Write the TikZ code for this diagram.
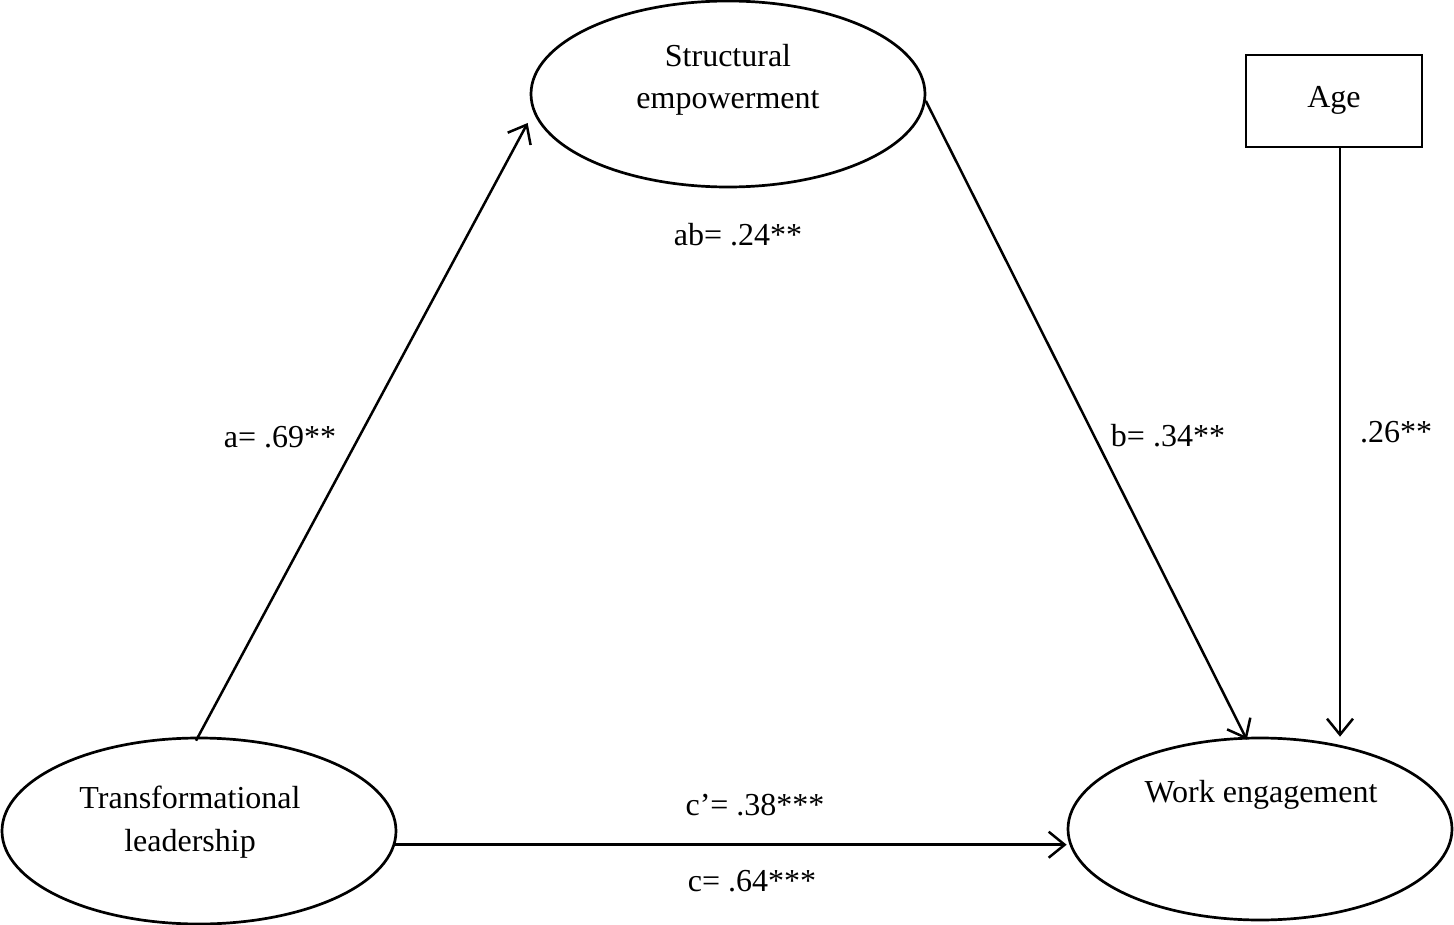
\documentclass[tikz,border=0pt]{standalone}
\usepackage{fontspec}
\setmainfont{Liberation Serif}
\usetikzlibrary{shapes.geometric,arrows.meta,calc}
\begin{document}
\begin{tikzpicture}[x=1pt,y=-1pt,
  oval/.style={draw,ellipse,line width=2.7pt,inner sep=0pt},
  boxnode/.style={draw,rectangle,line width=2.7pt,inner sep=0pt,minimum width=176pt,minimum height=92pt},
  txt/.style={anchor=base,inner sep=0pt,font=\fontsize{32}{38}\selectfont},
  arr/.style={line width=2.5pt,-{Straight Barb[length=16pt,width=26pt,line width=2.5pt]}}]
\useasboundingbox (0,0) rectangle (1454,925);
% shapes
\node[oval,minimum width=394pt,minimum height=186pt] (SE) at (728,94) {};
\node[oval,minimum width=394pt,minimum height=186pt] (TL) at (199,831) {};
\node[oval,minimum width=384pt,minimum height=182pt] (WE) at (1260,829) {};
\node[boxnode] (AG) at (1334,101) {};
% texts
\node[txt] (se1) at (728,67) {Structural};
\node[txt] (se2) at (728,109) {empowerment};
\node[txt] (tl1) at (190,808) {Transformational};
\node[txt] (tl2) at (190,851) {leadership};
\node[txt] (we1) at (1261,802) {Work engagement};
\node[txt] (ag1) at (1334,108) {Age};
% labels
\node[txt] (la) at (280,447) {a= .69**};
\node[txt] (lab) at (738,246) {ab= .24**};
\node[txt] (lb) at (1168,446) {b= .34**};
\node[txt] (lage) at (1396,442) {.26**};
\node[txt] (lcp) at (755,815) {c’= .38***};
\node[txt] (lc) at (752,891) {c= .64***};
% connectors
\coordinate (agetop) at (1340,147);
\coordinate (atip) at ($(SE.west)+(-2,29)$);
\draw[arr] ($(TL.north)+(-3,4)$) -- (atip);
\draw[arr,shorten >=-3pt] (SE.-2) -- (WE.99);
\draw[arr] (agetop) -- (agetop |- WE.north);
\draw[arr] (TL.-4) -- (TL.-4 -| WE.west);
\end{tikzpicture}
\end{document}
